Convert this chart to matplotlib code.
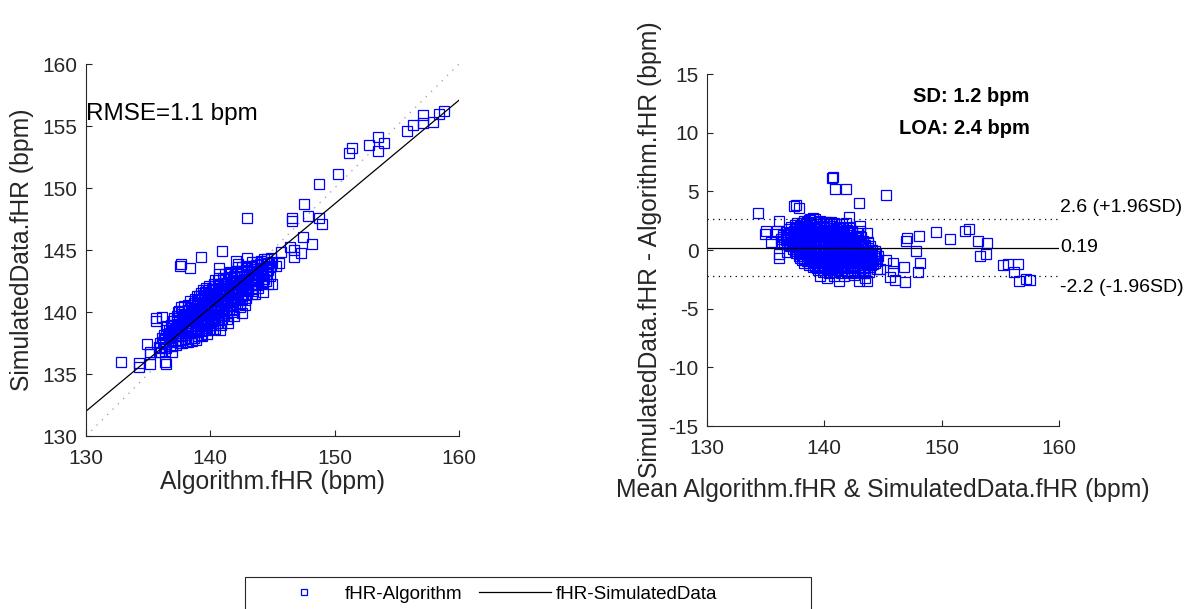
import matplotlib
matplotlib.use("Agg")
import matplotlib.pyplot as plt
import numpy as np
from matplotlib.lines import Line2D
from matplotlib.patches import Rectangle

plt.rcParams['font.family'] = ['Liberation Sans', 'DejaVu Sans']
plt.rcParams['axes.unicode_minus'] = False

# ---- Data: Bland-Altman coordinates (mean, difference) ----
# Individually readable (sparse) points
outlier_mean = [134.38, 136.14, 135.06, 134.93, 135.45, 135.97, 135.88, 136.17, 136.11, 136.85,
                137.45, 137.58, 137.85, 140.63, 140.77, 140.94, 141.85, 142.93, 145.26, 142.12,
                141.51, 141.88, 143.07, 143.04, 143.63, 143.30, 145.26, 145.82, 145.88, 145.60,
                146.04, 146.77, 146.94, 147.08, 146.85, 147.79, 148.09, 148.18, 148.01, 149.52,
                150.69, 152.01, 152.30, 153.12, 153.83, 153.25, 153.77, 155.21, 155.69, 156.52,
                156.17, 156.63, 157.17, 157.53, 144.75, 139.00, 138.80, 139.63, 140.26, 141.25,
                142.96, 143.47, 143.61, 143.84, 143.50, 144.49, 144.18]
outlier_diff = [3.14, 2.50, 1.64, 1.33, 0.67, 1.65, 1.39, -0.35, -0.64, -0.15,
                3.72, 3.84, 3.55, 6.17, 6.25, 5.23, 5.20, 4.01, 4.69, 2.78,
                2.19, 2.29, 2.07, 1.64, 1.42, 0.75, -0.83, -1.14, -1.76, -2.30,
                -2.54, -1.42, 0.76, 0.99, -2.69, -0.09, 1.19, -1.15, -1.88, 1.54,
                0.90, 1.66, 1.79, 0.77, 0.63, -0.49, -0.32, -1.26, -1.21, -1.23,
                -1.87, -2.63, -2.47, -2.56, -1.62, 2.76, 2.64, -2.22, -2.36, -2.64,
                -2.62, -2.36, -2.64, -1.85, -2.00, -1.60, -1.17]

# Dense cluster, estimated row by row
cluster_mean_rows = [
    [138.3, 138.7, 139.2, 139.6, 140.1, 140.6],
    [137.7, 138.1, 138.5, 138.9, 139.4, 139.9, 140.4, 140.8],
    [137.5, 137.9, 138.4, 138.8, 139.3, 139.7, 140.2, 140.6, 141.0, 141.3],
    [137.2, 137.6, 138.0, 138.4, 138.8, 139.2, 139.6, 140.0, 140.4, 140.8, 141.2, 141.6, 142.1],
    [137.0, 137.4, 137.8, 138.2, 138.6, 139.0, 139.4, 139.8, 140.2, 140.6, 141.0, 141.4, 141.9, 142.4],
    [136.7, 137.1, 137.5, 137.9, 138.3, 138.7, 139.1, 139.5, 139.9, 140.3, 140.7, 141.1, 141.5, 141.9, 142.4, 142.9],
    [136.5, 136.9, 137.3, 137.7, 138.1, 138.5, 138.9, 139.3, 139.7, 140.1, 140.5, 140.9, 141.3, 141.7, 142.2, 142.7],
    [136.5, 136.9, 137.4, 137.8, 138.2, 138.6, 139.0, 139.4, 139.8, 140.2, 140.6, 141.0, 141.4, 141.8, 142.2, 142.6, 143.1],
    [136.3, 136.7, 137.2, 137.6, 138.0, 138.4, 138.8, 139.2, 139.6, 140.0, 140.4, 140.8, 141.2, 141.6, 142.0, 142.4, 142.9],
    [136.4, 136.8, 137.3, 137.7, 138.1, 138.5, 138.9, 139.3, 139.7, 140.1, 140.5, 140.9, 141.3, 141.7, 142.1, 142.5, 142.9, 143.3, 143.7],
    [136.6, 137.0, 137.5, 137.9, 138.3, 138.7, 139.1, 139.5, 139.9, 140.3, 140.7, 141.1, 141.5, 141.9, 142.3, 142.7, 143.1, 143.5],
    [137.1, 137.5, 137.9, 138.3, 138.7, 139.1, 139.5, 139.9, 140.3, 140.7, 141.1, 141.5, 141.9, 142.3, 142.7, 143.1, 143.5, 143.9],
    [137.3, 137.7, 138.1, 138.5, 138.9, 139.3, 139.7, 140.1, 140.5, 140.9, 141.3, 141.7, 142.1, 142.5, 142.9, 143.3, 143.7, 144.1],
    [137.5, 137.9, 138.3, 138.7, 139.1, 139.5, 139.9, 140.3, 140.7, 141.1, 141.5, 141.9, 142.3, 142.7, 143.1, 143.5, 143.9, 144.3],
    [137.6, 138.0, 138.4, 138.8, 139.2, 139.6, 140.0, 140.4, 140.8, 141.2, 141.6, 142.0, 142.4, 142.8, 143.2, 143.6, 144.0, 144.4],
    [137.8, 138.2, 138.6, 139.0, 139.4, 139.8, 140.2, 140.6, 141.0, 141.4, 141.8, 142.2, 142.6, 143.0, 143.4, 143.8, 144.2, 144.6],
    [137.9, 138.3, 138.7, 139.1, 139.5, 139.9, 140.3, 140.7, 141.1, 141.5, 141.9, 142.3, 142.7, 143.1, 143.5, 143.9, 144.3],
    [138.1, 138.5, 138.9, 139.3, 139.7, 140.1, 140.5, 140.9, 141.3, 141.7, 142.1, 142.5, 142.9, 143.3, 143.7, 144.1, 144.5],
    [138.3, 138.7, 139.1, 139.5, 139.9, 140.3, 140.7, 141.1, 141.5, 141.9, 142.3, 142.7, 143.1, 143.5, 143.9, 144.3],
    [138.7, 139.2, 139.6, 140.0, 140.4, 140.8, 141.2, 141.6, 142.0, 142.4, 142.8, 143.2, 143.6, 144.0],
    [139.0, 139.4, 139.8, 140.2, 140.6, 141.0, 141.4, 141.8, 142.2, 142.6, 143.0, 143.4, 143.8],
    [139.5, 140.0, 140.5, 141.0, 141.5, 142.0, 142.5, 143.0, 143.5],
    [139.9, 140.4, 140.9, 141.4, 141.9, 142.4, 142.9, 143.3],
    [140.8, 141.7, 142.5],
]
cluster_diff_rows = [
    [2.45, 2.55, 2.62, 2.50, 2.40, 2.35],
    [2.32, 2.28, 2.36, 2.30, 2.38, 2.27, 2.33, 2.29],
    [2.15, 2.05, 2.20, 2.12, 2.25, 2.02, 2.18, 2.08, 2.20, 1.98],
    [1.92, 1.86, 1.95, 1.88, 1.90, 1.94, 1.85, 1.93, 1.87, 1.91, 1.84, 1.89, 1.86],
    [1.75, 1.62, 1.80, 1.68, 1.74, 1.60, 1.78, 1.66, 1.72, 1.60, 1.76, 1.63, 1.70, 1.58],
    [1.52, 1.46, 1.55, 1.48, 1.50, 1.54, 1.45, 1.51, 1.47, 1.53, 1.49, 1.44, 1.52, 1.46, 1.50, 1.42],
    [1.28, 1.35, 1.22, 1.34, 1.26, 1.38, 1.24, 1.32, 1.20, 1.36, 1.25, 1.30, 1.22, 1.35, 1.27, 1.18],
    [1.12, 1.06, 1.14, 1.08, 1.10, 1.05, 1.13, 1.07, 1.11, 1.15, 1.04, 1.09, 1.12, 1.06, 1.10, 1.03, 1.08],
    [0.92, 0.85, 0.95, 0.88, 0.96, 0.84, 0.92, 0.86, 0.97, 0.83, 0.90, 0.95, 0.85, 0.93, 0.82, 0.96, 0.88],
    [0.72, 0.66, 0.74, 0.68, 0.70, 0.65, 0.73, 0.69, 0.71, 0.64, 0.75, 0.67, 0.70, 0.73, 0.66, 0.71, 0.68, 0.72, 0.65],
    [0.52, 0.45, 0.55, 0.48, 0.56, 0.44, 0.53, 0.47, 0.58, 0.45, 0.52, 0.43, 0.55, 0.48, 0.54, 0.42, 0.50, 0.46],
    [0.32, 0.26, 0.34, 0.28, 0.30, 0.25, 0.33, 0.29, 0.31, 0.24, 0.35, 0.27, 0.30, 0.33, 0.26, 0.31, 0.28, 0.32],
    [0.12, 0.05, 0.15, 0.08, 0.14, 0.02, 0.11, 0.06, 0.16, 0.04, 0.12, 0.07, 0.15, 0.03, 0.10, 0.05, 0.13, 0.02],
    [-0.08, -0.14, -0.06, -0.12, -0.10, -0.15, -0.07, -0.11, -0.09, -0.13, -0.05, -0.12, -0.08, -0.14, -0.10, -0.06, -0.11, -0.09],
    [-0.28, -0.35, -0.25, -0.32, -0.22, -0.36, -0.27, -0.33, -0.24, -0.38, -0.26, -0.31, -0.23, -0.37, -0.28, -0.34, -0.25, -0.30],
    [-0.48, -0.54, -0.46, -0.52, -0.50, -0.55, -0.47, -0.51, -0.49, -0.53, -0.45, -0.52, -0.48, -0.54, -0.50, -0.46, -0.51, -0.49],
    [-0.68, -0.75, -0.65, -0.72, -0.64, -0.78, -0.67, -0.73, -0.62, -0.76, -0.66, -0.71, -0.63, -0.77, -0.68, -0.74, -0.66],
    [-0.88, -0.94, -0.86, -0.92, -0.90, -0.95, -0.87, -0.91, -0.89, -0.93, -0.85, -0.92, -0.88, -0.94, -0.90, -0.86, -0.91],
    [-1.08, -1.15, -1.05, -1.12, -1.03, -1.16, -1.07, -1.13, -1.02, -1.15, -1.06, -1.11, -1.04, -1.14, -1.08, -1.12],
    [-1.28, -1.34, -1.26, -1.32, -1.30, -1.35, -1.27, -1.31, -1.29, -1.33, -1.25, -1.32, -1.28, -1.30],
    [-1.48, -1.55, -1.45, -1.52, -1.44, -1.56, -1.47, -1.53, -1.42, -1.55, -1.46, -1.51, -1.44],
    [-1.68, -1.74, -1.66, -1.72, -1.70, -1.75, -1.67, -1.71, -1.69],
    [-1.88, -1.95, -1.86, -1.93, -1.84, -1.96, -1.88, -1.92],
    [-2.18, -2.25, -2.15],
]

# Summary statistics shown in the chart
fit_slope = 0.836          # regression line, left panel
fit_intercept = 23.32
bias = 0.19
loa_upper = 2.6
loa_lower = -2.2
rmse_text = "RMSE=1.1 bpm"
sd_text = "SD: 1.2 bpm"
loa_text = "LOA: 2.4 bpm"

xticks_left = [130, 140, 150, 160]
yticks_left = [130, 135, 140, 145, 150, 155, 160]
xticks_right = [130, 140, 150, 160]
yticks_right = [-15, -10, -5, 0, 5, 10, 15]

# ---- derived ----
mean_all = np.array(outlier_mean + [v for r in cluster_mean_rows for v in r])
diff_all = np.array(outlier_diff + [v for r in cluster_diff_rows for v in r])
alg = mean_all - diff_all / 2.0
sim = mean_all + diff_all / 2.0

W, H = 1197, 609
fig = plt.figure(figsize=(W / 100, H / 100), dpi=100)

dark = '0.15'
tick_fs = 15
label_fs = 17.8

def style(ax):
    for s in ['top', 'right']:
        ax.spines[s].set_visible(False)
    for s in ['left', 'bottom']:
        ax.spines[s].set_color(dark)
        ax.spines[s].set_linewidth(0.8)
    ax.tick_params(direction='in', length=4, width=0.8, color=dark,
                   labelcolor=dark, labelsize=tick_fs)
    ax.tick_params(axis='x', pad=9)
    ax.tick_params(axis='y', pad=6)

mk = dict(ls='none', marker='s', ms=6.8, mfc='none', mec=(0, 0, 1), mew=0.9)

# ---- Left panel ----
axL = fig.add_axes([86 / W, 1 - 436 / H, 373 / W, 372 / H])
xs = np.array([130, 160])
axL.plot(xs, xs, color='0.6', lw=0.9, ls=(0, (1, 5)))
axL.plot(alg, sim, **mk)
axL.plot(xs, fit_slope * xs + fit_intercept, color='k', lw=0.9)
axL.set_xlim(130, 160)
axL.set_ylim(130, 160)
axL.set_xticks(xticks_left)
axL.set_yticks(yticks_left)
style(axL)
axL.set_xlabel('Algorithm.fHR (bpm)', fontsize=label_fs, color=dark, va='center')
axL.xaxis.set_label_coords(0.5, -(482 - 436) / 372)
axL.set_ylabel('SimulatedData.fHR (bpm)', fontsize=label_fs, color=dark, va='center')
axL.yaxis.set_label_coords((22 - 86) / 373, 0.5)
axL.text(130, 156.0, rmse_text, fontsize=17.5, ha='left', va='center', color='k')

# ---- Right panel ----
axR = fig.add_axes([707 / W, 1 - 426 / H, 352 / W, 352 / H])
axR.plot(mean_all, diff_all, **mk)
axR.axhline(bias, color='k', lw=0.9)
axR.axhline(loa_upper, color='k', lw=0.9, ls=(0, (1, 3.5)))
axR.axhline(loa_lower, color='k', lw=0.9, ls=(0, (1, 3.5)))
axR.set_xlim(130, 160)
axR.set_ylim(-15, 15)
axR.set_xticks(xticks_right)
axR.set_yticks(yticks_right)
style(axR)
axR.set_xlabel('Mean Algorithm.fHR & SimulatedData.fHR (bpm)', fontsize=label_fs,
               color=dark, va='center')
axR.xaxis.set_label_coords(0.5, -(490 - 426) / 352)
axR.set_ylabel('SimulatedData.fHR - Algorithm.fHR (bpm)', fontsize=label_fs,
               color=dark, va='center')
axR.yaxis.set_label_coords((650 - 707) / 352, 0.5)

side_fs = 14
axR.text(160.1, loa_upper + 0.3, f'{loa_upper} (+1.96SD)', fontsize=side_fs, ha='left', va='bottom', color='k')
axR.text(160.1, bias, f'{bias}', fontsize=side_fs, ha='left', va='center', color='k')
axR.text(160.1, loa_lower - 0.3, f'{loa_lower} (-1.96SD)', fontsize=side_fs, ha='left', va='top', color='k')
axR.text(157.5, 13.08, sd_text, fontsize=14.5, fontweight='bold', ha='right', va='center', color='k')
axR.text(157.5, 10.35, loa_text, fontsize=14.5, fontweight='bold', ha='right', va='center', color='k')

# ---- Legend ----
frame = Rectangle((245 / W, -0.05), 566 / W, 0.05 + (1 - 577 / H), transform=fig.transFigure,
                  facecolor='white', edgecolor=dark, lw=0.8, zorder=1)
fig.add_artist(frame)
h_pts = Line2D([], [], ls='none', marker='s', ms=4.5, mfc='none', mec=(0, 0, 1), mew=0.9)
h_line = Line2D([], [], color='k', lw=0.9)
leg = fig.legend([h_pts, h_line], ['fHR-Algorithm', 'fHR-SimulatedData'], ncol=2,
                 loc='center left', bbox_to_anchor=(268 / W, 1 - 594 / H),
                 frameon=False, fontsize=13.5, handlelength=3.84, handletextpad=0.27,
                 columnspacing=0.85, borderpad=0, borderaxespad=0)
leg.set_zorder(2)

fig.savefig('out.png', dpi=100)
